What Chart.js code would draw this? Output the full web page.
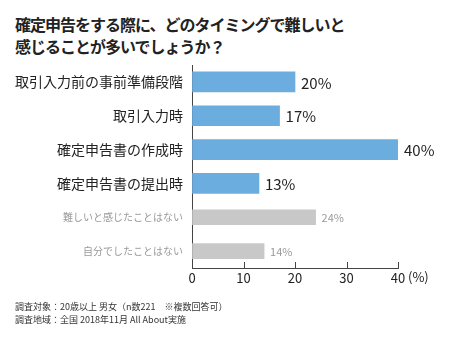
<!DOCTYPE html>
<html>
<head>
<meta charset="utf-8">
<script src="https://cdn.jsdelivr.net/npm/chart.js@4"></script>
<style>
  html, body { margin: 0; padding: 0; background: #fff; }
  body { width: 450px; height: 338px; position: relative; overflow: hidden; font-family: "Noto Sans CJK JP", sans-serif; }
  #title { position: absolute; left: 15px; top: 13px; font-size: 16px; font-weight: bold; line-height: 22px; color: #222; letter-spacing: -1px; }
  #note { position: absolute; left: 15px; top: 300px; font-size: 9px; line-height: 13px; color: #333; }
  #wrap { position: absolute; left: 0; top: 0; width: 450px; height: 338px; }
</style>
</head>
<body>
<div id="title">確定申告をする際に、どのタイミングで難しいと<br>感じることが多いでしょうか？</div>
<div id="wrap"><canvas id="chart"></canvas></div>
<div id="note">調査対象：20歳以上 男女（n数221　※複数回答可）<br>調査地域：全国 2018年11月 All About実施</div>
<script>
const categories = ['取引入力前の事前準備段階', '取引入力時', '確定申告書の作成時', '確定申告書の提出時', '難しいと感じたことはない', '自分でしたことはない'];
const mainValues = [20, 17, 40, 13, null, null];
const otherValues = [null, null, null, null, 24, 14];
const xTicks = [0, 10, 20, 30, 40];

const font = '"Noto Sans CJK JP", sans-serif';

// value labels + small tick marks + "(%)"
const extras = {
  id: 'extras',
  afterDatasetsDraw(chart) {
    const ctx = chart.ctx;
    ctx.save();
    ctx.textBaseline = 'middle';
    ctx.textAlign = 'left';
    chart.data.datasets.forEach((ds, i) => {
      const meta = chart.getDatasetMeta(i);
      meta.data.forEach((bar, j) => {
        const v = ds.data[j];
        if (v == null) return;
        if (i === 0) {
          ctx.font = '15px ' + font;
          ctx.fillStyle = '#222';
        } else {
          ctx.font = '11px ' + font;
          ctx.fillStyle = '#999';
        }
        ctx.fillText(v + '%', bar.x + 6, bar.y + 1);
      });
    });
    const xs = chart.scales.x;
    const bottom = chart.chartArea.bottom;
    ctx.strokeStyle = '#444';
    ctx.lineWidth = 1;
    xTicks.forEach(t => {
      if (t === 0) return;
      const px = Math.round(xs.getPixelForValue(t)) + 0.5;
      ctx.beginPath();
      ctx.moveTo(px, bottom - 6);
      ctx.lineTo(px, bottom);
      ctx.stroke();
    });
    ctx.font = '13px ' + font;
    ctx.fillStyle = '#222';
    ctx.fillText('(%)', xs.getPixelForValue(40) + 10, bottom + 9);
    ctx.restore();
  }
};

new Chart(document.getElementById('chart'), {
  type: 'bar',
  data: {
    labels: categories,
    datasets: [{
      data: mainValues,
      backgroundColor: '#6cade0',
      barThickness: 20
    }, {
      data: otherValues,
      backgroundColor: '#c8c8c8',
      barThickness: 15
    }]
  },
  options: {
    indexAxis: 'y',
    responsive: true,
    maintainAspectRatio: false,
    animation: false,
    layout: { padding: { top: 65, right: 52, bottom: 0, left: 0 } },
    plugins: {
      legend: { display: false },
      tooltip: { enabled: false }
    },
    scales: {
      y: {
        stacked: true,
        afterFit: (s) => { s.width = 192; },
        grid: { display: false, drawTicks: false },
        border: { display: true, color: '#444', width: 1 },
        ticks: {
          padding: 9,
          color: (c) => c.index < 4 ? '#222' : '#999',
          font: (c) => ({ family: font, size: c.index < 4 ? 14 : 10 })
        }
      },
      x: {
        stacked: true,
        min: 0,
        max: 40,
        afterFit: (s) => { s.height = 70; },
        grid: { drawOnChartArea: false, drawTicks: false },
        border: { display: true, color: '#444', width: 1 },
        afterBuildTicks: (s) => { s.ticks = xTicks.map(v => ({ value: v })); },
        ticks: {
          padding: 2,
          color: '#222',
          font: { family: font, size: 13 }
        }
      }
    }
  },
  plugins: [extras]
});
</script>
</body>
</html>
